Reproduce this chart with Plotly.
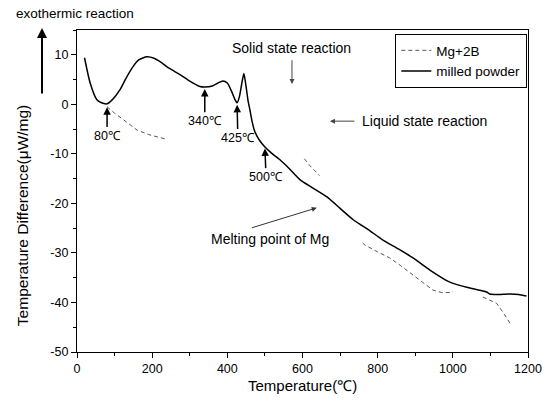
import plotly.graph_objects as go

# ---- data ----
milled_T = [20, 35, 53, 65, 80, 95, 114, 130, 149, 165, 186, 205, 221, 245, 274, 300, 327, 340,
            360, 375, 388, 400, 412, 420, 426, 432, 438, 444, 450, 455, 460, 466, 473, 485, 500,
            520, 540, 565, 593, 630, 665, 700, 735, 775, 814, 855, 894, 940, 992, 1040, 1075,
            1090, 1098, 1120, 1152, 1175, 1196]
milled_y = [9.4, 4.3, 0.9, 0.3, 0.1, 1.0, 2.9, 5.2, 7.6, 9.0, 9.6, 9.3, 8.6, 7.3, 6.0, 4.7, 3.6, 3.5,
            3.7, 4.3, 4.7, 4.3, 2.5, 1.0, 0.3, 1.5, 4.0, 6.2, 3.5, 0.8, -1.1, -3.5, -5.5, -7.2, -8.6,
            -10.0, -11.2, -13.0, -15.2, -17.0, -18.7, -21.0, -23.3, -25.3, -27.4, -29.2, -31.0, -33.5,
            -35.9, -37.0, -37.6, -37.9, -38.3, -38.4, -38.3, -38.4, -38.7]

# Mg+2B: only the visible (dashed) pieces of the faint trace; None = not readable
mg_T = [80, 100, 120, 140, 160, 190, 221, 235, None,
        605, 620, 638, 645, None,
        760, 766, 800, 832, 860, 886, 915, 947, 970, 992, 1000, None,
        1080, 1100, 1117, 1138, 1146, 1153]
mg_y = [-0.5, -1.8, -2.9, -4.0, -5.2, -6.1, -6.8, -7.0, None,
        -11.0, -12.4, -13.8, -14.4, None,
        -28.0, -28.4, -29.8, -31.0, -32.5, -34.0, -35.8, -37.5, -38.0, -38.0, -37.8, None,
        -38.9, -39.6, -40.2, -42.5, -43.5, -44.3]

x_ticks = [0, 200, 400, 600, 800, 1000, 1200]
y_ticks = [10, 0, -10, -20, -30, -40, -50]

FONT = "Arial, Liberation Sans, sans-serif"

fig = go.Figure()
fig.add_trace(go.Scatter(x=mg_T, y=mg_y, mode="lines", name="Mg+2B",
                         line=dict(color="#555555", width=1, dash="4px,3px"),
                         connectgaps=False))
fig.add_trace(go.Scatter(x=milled_T, y=milled_y, mode="lines", name="milled powder",
                         line=dict(color="black", width=1.5, shape="spline", smoothing=0.6)))

ann = []
def arrow_label(text, hx, hy, tx, ty):
    ann.append(dict(x=hx, y=hy, ax=tx, ay=ty, xref="x", yref="y", axref="x", ayref="y",
                    text=text, showarrow=True, arrowhead=2, arrowsize=1, arrowwidth=1.5,
                    arrowcolor="black", font=dict(family=FONT, size=12.5, color="black")))

arrow_label("80℃", 80, -0.6, 80, -6.3)
arrow_label("340℃", 340, 3.1, 340, -3.3)
arrow_label("425℃", 426, -0.1, 428, -6.7)
arrow_label("500℃", 500, -8.9, 503, -14.6)

# Solid state reaction
ann.append(dict(x=572, y=11.4, xref="x", yref="y", text="Solid state reaction", showarrow=False,
                font=dict(family=FONT, size=14, color="black")))
ann.append(dict(x=572, y=4.1, ax=572, ay=9.2, xref="x", yref="y", axref="x", ayref="y", text="",
                showarrow=True, arrowhead=2, arrowsize=1, arrowwidth=1, arrowcolor="#444444"))
# Liquid state reaction
ann.append(dict(x=753, y=-3.3, xref="x", yref="y", xanchor="left", text="Liquid state reaction",
                showarrow=False, font=dict(family=FONT, size=14, color="black")))
ann.append(dict(x=673, y=-3.4, ax=742, ay=-3.4, xref="x", yref="y", axref="x", ayref="y", text="",
                showarrow=True, arrowhead=2, arrowsize=1, arrowwidth=1, arrowcolor="#444444"))
# Melting point of Mg
ann.append(dict(x=513, y=-27.2, xref="x", yref="y", text="Melting point of Mg", showarrow=False,
                font=dict(family=FONT, size=14, color="black")))
ann.append(dict(x=638, y=-20.9, ax=462, ay=-25.0, xref="x", yref="y", axref="x", ayref="y", text="",
                showarrow=True, arrowhead=2, arrowsize=1, arrowwidth=1, arrowcolor="#333333"))
# exothermic reaction
ann.append(dict(x=-0.004, y=1.05, xref="paper", yref="paper", text="exothermic reaction",
                showarrow=False, xanchor="center", yanchor="middle",
                font=dict(family=FONT, size=13.5, color="black")))
ann.append(dict(x=-0.0776, y=1.006, xref="paper", yref="paper", ax=0, ay=67, text="",
                showarrow=True, arrowhead=2, arrowsize=1, arrowwidth=2, arrowcolor="black"))
# axis titles
ann.append(dict(x=-0.122, y=0.425, xref="paper", yref="paper", text="Temperature Difference(μW/mg)",
                textangle=-90, showarrow=False, xanchor="center", yanchor="middle",
                font=dict(family=FONT, size=15.5, color="black")))
ann.append(dict(x=0.5, y=-0.1025, xref="paper", yref="paper", text="Temperature(℃)",
                showarrow=False, xanchor="center", yanchor="middle",
                font=dict(family=FONT, size=15, color="black")))

fig.update_layout(
    width=556, height=402,
    margin=dict(l=77, r=28, t=30, b=50),
    paper_bgcolor="white", plot_bgcolor="white",
    showlegend=True,
    legend=dict(x=0.998, y=0.988, xanchor="right", yanchor="top", bordercolor="black",
                borderwidth=1.2, bgcolor="white", font=dict(family=FONT, size=13.5, color="black"),
                tracegroupgap=0, itemwidth=30),
    annotations=ann,
    font=dict(family=FONT, color="black"),
)
fig.update_xaxes(range=[0, 1200], tickvals=x_ticks, ticktext=[str(v) for v in x_ticks],
                 ticks="outside", ticklen=5, tickwidth=1, tickcolor="black",
                 showline=True, linecolor="black", linewidth=1.2, mirror=True,
                 showgrid=False, zeroline=False,
                 minor=dict(dtick=100, ticks="outside", ticklen=3, tickcolor="black"),
                 tickfont=dict(family=FONT, size=12.5, color="black"))
fig.update_yaxes(range=[-50, 15], tickvals=y_ticks, ticktext=[str(v) for v in y_ticks],
                 ticks="outside", ticklen=5, tickwidth=1, tickcolor="black",
                 showline=True, linecolor="black", linewidth=1.2, mirror=True,
                 showgrid=False, zeroline=False,
                 minor=dict(dtick=5, ticks="outside", ticklen=3, tickcolor="black"),
                 tickfont=dict(family=FONT, size=12.5, color="black"))

fig.write_html("out.html")
